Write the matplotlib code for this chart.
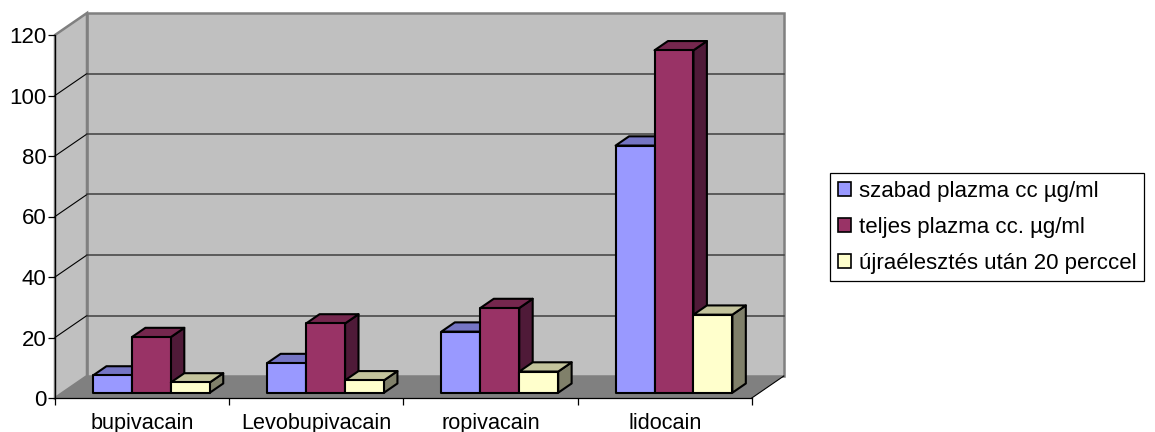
import matplotlib
matplotlib.use("Agg")
import matplotlib.pyplot as plt
from matplotlib.patches import Patch, Polygon

plt.rcParams["font.family"] = ["Liberation Sans", "DejaVu Sans"]

drugs = ["bupivacain", "Levobupivacain", "ropivacain", "lidocain"]
series_names = [
    "szabad plazma cc µg/ml",
    "teljes plazma cc. µg/ml",
    "újraélesztés után 20 perccel",
]
free_plasma = [5.7, 9.8, 20.2, 81.7]
total_plasma = [18.4, 22.9, 28.0, 113.2]
after_20_min = [3.4, 4.1, 7.0, 25.8]
y_ticks = [0, 20, 40, 60, 80, 100, 120]

# face, top, side for each series
front_colors = ["#9999FF", "#993366", "#FFFFCC"]
top_colors = ["#7575C4", "#75274E", "#C3C39C"]
side_colors = ["#5C5C99", "#4F1A38", "#80806A"]

DEPTH_X = 32 / 174.2  # floor depth in category units
DEPTH_Y = 22 / 3.025  # floor depth in value units
BAR_WIDTH = 0.2235
BAR_NEAR = 0.24
BAR_FAR = 0.66
GROUP_PAD = 0.174


def project(x, y, depth):
    return (x + depth * DEPTH_X, y + depth * DEPTH_Y)


def draw_bar(ax, x, value):
    x1 = x + BAR_WIDTH
    near_bl = project(x, 0, BAR_NEAR)
    near_br = project(x1, 0, BAR_NEAR)
    near_tl = project(x, value, BAR_NEAR)
    near_tr = project(x1, value, BAR_NEAR)
    far_br = project(x1, 0, BAR_FAR)
    far_tl = project(x, value, BAR_FAR)
    far_tr = project(x1, value, BAR_FAR)
    return (
        [near_bl, near_br, near_tr, near_tl],
        [near_tl, near_tr, far_tr, far_tl],
        [near_br, far_br, far_tr, near_tr],
    )


fig = plt.figure(figsize=(11.55, 4.32), dpi=100)
ax = fig.add_axes([55 / 1155, 34 / 432, 696.8 / 1155, 363 / 432])
ax.set_xlim(0, 4)
ax.set_ylim(0, 120)
ax.patch.set_visible(False)

n = len(drugs)
top = y_ticks[-1]

# back wall, floor and left wall
ax.add_patch(Polygon(
    [project(0, 0, 1), project(n, 0, 1), project(n, top, 1), project(0, top, 1)],
    fc="#C0C0C0", ec="#808080", lw=1.8, clip_on=False, zorder=1))
ax.add_patch(Polygon(
    [(0, 0), (n, 0), project(n, 0, 1), project(0, 0, 1)],
    fc="#808080", ec="none", clip_on=False, zorder=1.1))
ax.add_patch(Polygon(
    [(0, 0), project(0, 0, 1), project(0, top, 1), (0, top)],
    fc="#C0C0C0", ec="#808080", lw=1.8, clip_on=False, zorder=1.2))

# gridlines run across the back wall and down the left wall
for tick in y_ticks[1:-1]:
    xs, ys = zip((0, tick), project(0, tick, 1), project(n, tick, 1))
    ax.plot(xs[:2], ys[:2], color="black", lw=0.8, clip_on=False, zorder=1.3)
    ax.plot(xs[1:], ys[1:], color="#404040", lw=1.1, clip_on=False, zorder=1.3)

# floor edge on the right
xs, ys = zip((n, 0), project(n, 0, 1))
ax.plot(xs, ys, color="black", lw=0.8, clip_on=False, zorder=1.4)

all_series = [free_plasma, total_plasma, after_20_min]
zorder = 2.0
for i in range(n):
    for j, values in enumerate(all_series):
        x = i + GROUP_PAD + j * BAR_WIDTH
        front, cap, side = draw_bar(ax, x, values[i])
        ax.add_patch(Polygon(side, fc=side_colors[j], ec="black", lw=1.5,
                             joinstyle="round", clip_on=False, zorder=zorder))
        ax.add_patch(Polygon(cap, fc=top_colors[j], ec="black", lw=1.5,
                             joinstyle="round", clip_on=False, zorder=zorder + 0.01))
        ax.add_patch(Polygon(front, fc=front_colors[j], ec="black", lw=1.5,
                             joinstyle="round", clip_on=False, zorder=zorder + 0.02))
        zorder += 0.1

for name in ["top", "right"]:
    ax.spines[name].set_visible(False)
for name in ["left", "bottom"]:
    ax.spines[name].set_linewidth(0.9)
    ax.spines[name].set_zorder(1.5)

ax.set_yticks(y_ticks)
ax.set_xticks(range(n + 1))
ax.set_xticklabels([])
ax.set_xticks([i + 0.5 for i in range(n)], labels=drugs, minor=True)
ax.tick_params(axis="x", which="major", length=5, width=0.9)
ax.tick_params(axis="x", which="minor", length=0, labelsize=15.6, pad=11)
ax.tick_params(axis="y", length=5, width=0.9, labelsize=16, pad=1)

handles = [Patch(fc=c, ec="black", lw=1.2) for c in front_colors]
legend = fig.legend(
    handles, series_names,
    loc="upper left", bbox_to_anchor=(830 / 1155, 1 - 173 / 432),
    borderaxespad=0, frameon=True, fancybox=False, framealpha=1,
    edgecolor="black", fontsize=16.0, labelspacing=0.68,
    handlelength=0.6, handleheight=0.6, handletextpad=0.36,
    borderpad=0.34,
)
legend.get_frame().set_linewidth(0.9)

fig.savefig("out.png", dpi=100)
plt.close(fig)
